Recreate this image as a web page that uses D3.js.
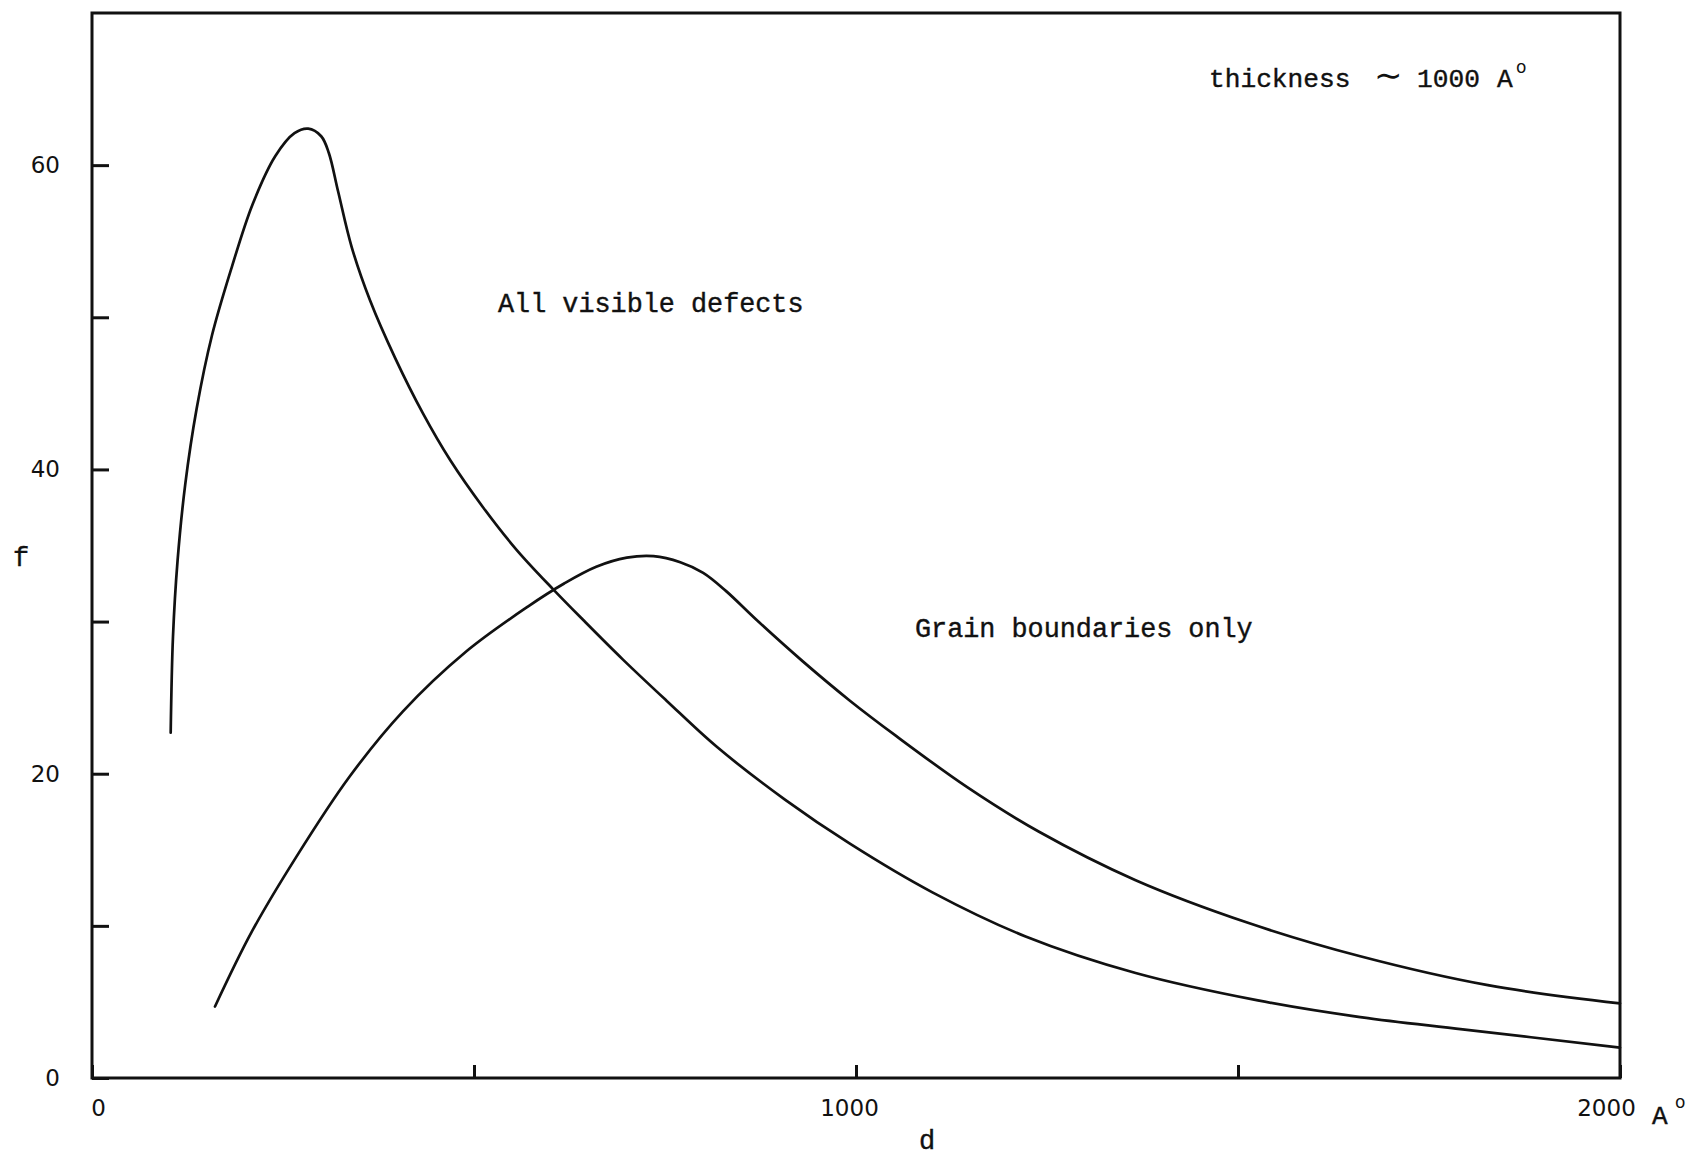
<!DOCTYPE html>
<html>
<head>
<meta charset="utf-8">
<script src="https://cdn.jsdelivr.net/npm/d3@7"></script>
<style>
  html, body { margin: 0; padding: 0; background: #fff; }
  svg { display: block; }
  .typed { font-family: "Liberation Mono", "DejaVu Sans Mono", monospace; fill: #111; stroke: #111; stroke-width: 0.4px; }
  .lettered { font-family: "DejaVu Sans", sans-serif; fill: #111; }
</style>
</head>
<body>
<svg id="chart" width="1693" height="1159"></svg>
<script>
// Defect spacing distribution, film thickness ~1000 Å
// d (Å) and f
const allDefectsD = [103, 106, 112, 122, 137, 157, 183, 210, 240, 265, 283, 300, 310, 322, 340, 364, 397, 433, 469, 512, 556, 604, 643, 695, 752, 817, 907, 992, 1100, 1222, 1366, 1526, 1660, 1794, 2000];
const allDefectsF = [22.7, 29.0, 34.0, 39.0, 44.0, 48.8, 53.3, 57.4, 60.6, 62.1, 62.4, 61.9, 60.8, 58.3, 54.6, 51.1, 47.3, 43.7, 40.6, 37.5, 34.7, 32.1, 30.1, 27.5, 24.8, 21.8, 18.3, 15.4, 12.2, 9.3, 6.9, 5.1, 4.0, 3.2, 2.0];

const grainD = [161, 209, 267, 337, 407, 489, 571, 618, 660, 700, 735, 770, 800, 830, 870, 930, 992, 1052, 1146, 1239, 1366, 1513, 1660, 1827, 2000];
const grainF = [4.7, 9.6, 14.5, 19.8, 24.1, 28.0, 31.0, 32.5, 33.6, 34.2, 34.3, 33.9, 33.2, 32.0, 30.1, 27.4, 24.8, 22.5, 19.1, 16.2, 13.0, 10.2, 8.0, 6.1, 4.9];

const xTickValues = [0, 500, 1000, 1500, 2000];
const xTickLabels = ["0", "", "1000", "", "2000"];
const yTickValues = [0, 10, 20, 30, 40, 50, 60];
const yTickLabels = ["0", "", "20", "", "40", "", "60"];

const seriesNames = ["All visible defects", "Grain boundaries only"];

const svg = d3.select("#chart");

const x = d3.scaleLinear().domain([0, 2000]).range([92, 1620]);
const y = d3.scaleLinear().domain([0, 70]).range([1078, 13]);

// plot frame
svg.append("rect")
  .attr("x", x(0)).attr("y", y(70))
  .attr("width", x(2000) - x(0)).attr("height", y(0) - y(70))
  .attr("fill", "none").attr("stroke", "#111").attr("stroke-width", 3);

// x axis: inward ticks, sparse labels
const xAxis = svg.append("g")
  .attr("transform", `translate(0,${y(0)})`)
  .call(d3.axisBottom(x)
    .tickValues(xTickValues)
    .tickSizeInner(-13).tickSizeOuter(0).tickPadding(22)
    .tickFormat((d, i) => xTickLabels[i]));
xAxis.select(".domain").remove();
xAxis.selectAll(".tick line").attr("stroke", "#111").attr("stroke-width", 3);
xAxis.selectAll(".tick text")
  .attr("class", "lettered")
  .attr("font-size", 23)
  .attr("dx", (d) => d === 2000 ? -14 : (d === 1000 ? -7 : 6));

// unit after the last x label
svg.append("text").attr("class", "typed")
  .attr("x", x(2000) + 32).attr("y", y(0) + 46)
  .attr("font-size", 26).attr("stroke-width", 0.2).text("A");
svg.append("text").attr("class", "lettered")
  .attr("x", x(2000) + 55).attr("y", y(0) + 30)
  .attr("font-size", 17).text("o");

// y axis: inward ticks, labels every 20
const yAxis = svg.append("g")
  .attr("transform", `translate(${x(0)},0)`)
  .call(d3.axisLeft(y)
    .tickValues(yTickValues)
    .tickSizeInner(-17).tickSizeOuter(0).tickPadding(32)
    .tickFormat((d, i) => yTickLabels[i]));
yAxis.select(".domain").remove();
yAxis.selectAll(".tick line").attr("stroke", "#111").attr("stroke-width", 3);
yAxis.selectAll(".tick text")
  .attr("class", "lettered")
  .attr("font-size", 23)
  .attr("dy", "0.32em");

// axis titles
svg.append("text").attr("class", "typed")
  .attr("x", 21).attr("y", 566).attr("text-anchor", "middle")
  .attr("font-size", 27).text("f");
svg.append("text").attr("class", "typed")
  .attr("x", 927).attr("y", 1149).attr("text-anchor", "middle")
  .attr("font-size", 27).text("d");

// curves
const line = d3.line()
  .x(p => x(p[0]))
  .y(p => y(p[1]))
  .curve(d3.curveCatmullRom.alpha(0.5));

const series = [
  d3.zip(allDefectsD, allDefectsF),
  d3.zip(grainD, grainF)
];

svg.append("g").selectAll("path")
  .data(series)
  .join("path")
  .attr("d", line)
  .attr("fill", "none")
  .attr("stroke", "#111")
  .attr("stroke-width", 2.7)
  .attr("stroke-linecap", "round")
  .attr("stroke-linejoin", "round");

// curve annotations
svg.append("text").attr("class", "typed")
  .attr("x", 498).attr("y", 312).attr("font-size", 26.8).text(seriesNames[0]);
svg.append("text").attr("class", "typed")
  .attr("x", 915).attr("y", 637).attr("font-size", 26.8).text(seriesNames[1]);

// thickness note
const note = svg.append("g");
note.append("text").attr("class", "typed")
  .attr("x", 1209).attr("y", 87).attr("font-size", 26.2).text("thickness");
note.append("text").attr("class", "lettered")
  .attr("x", 1374).attr("y", 87).attr("font-size", 34).text("\u223C");
note.append("text").attr("class", "typed")
  .attr("x", 1417).attr("y", 87).attr("font-size", 26.2).text("1000");
note.append("text").attr("class", "typed")
  .attr("x", 1497).attr("y", 87).attr("font-size", 26.2).text("A");
note.append("text").attr("class", "lettered")
  .attr("x", 1516).attr("y", 73).attr("font-size", 17).text("o");
</script>
</body>
</html>
